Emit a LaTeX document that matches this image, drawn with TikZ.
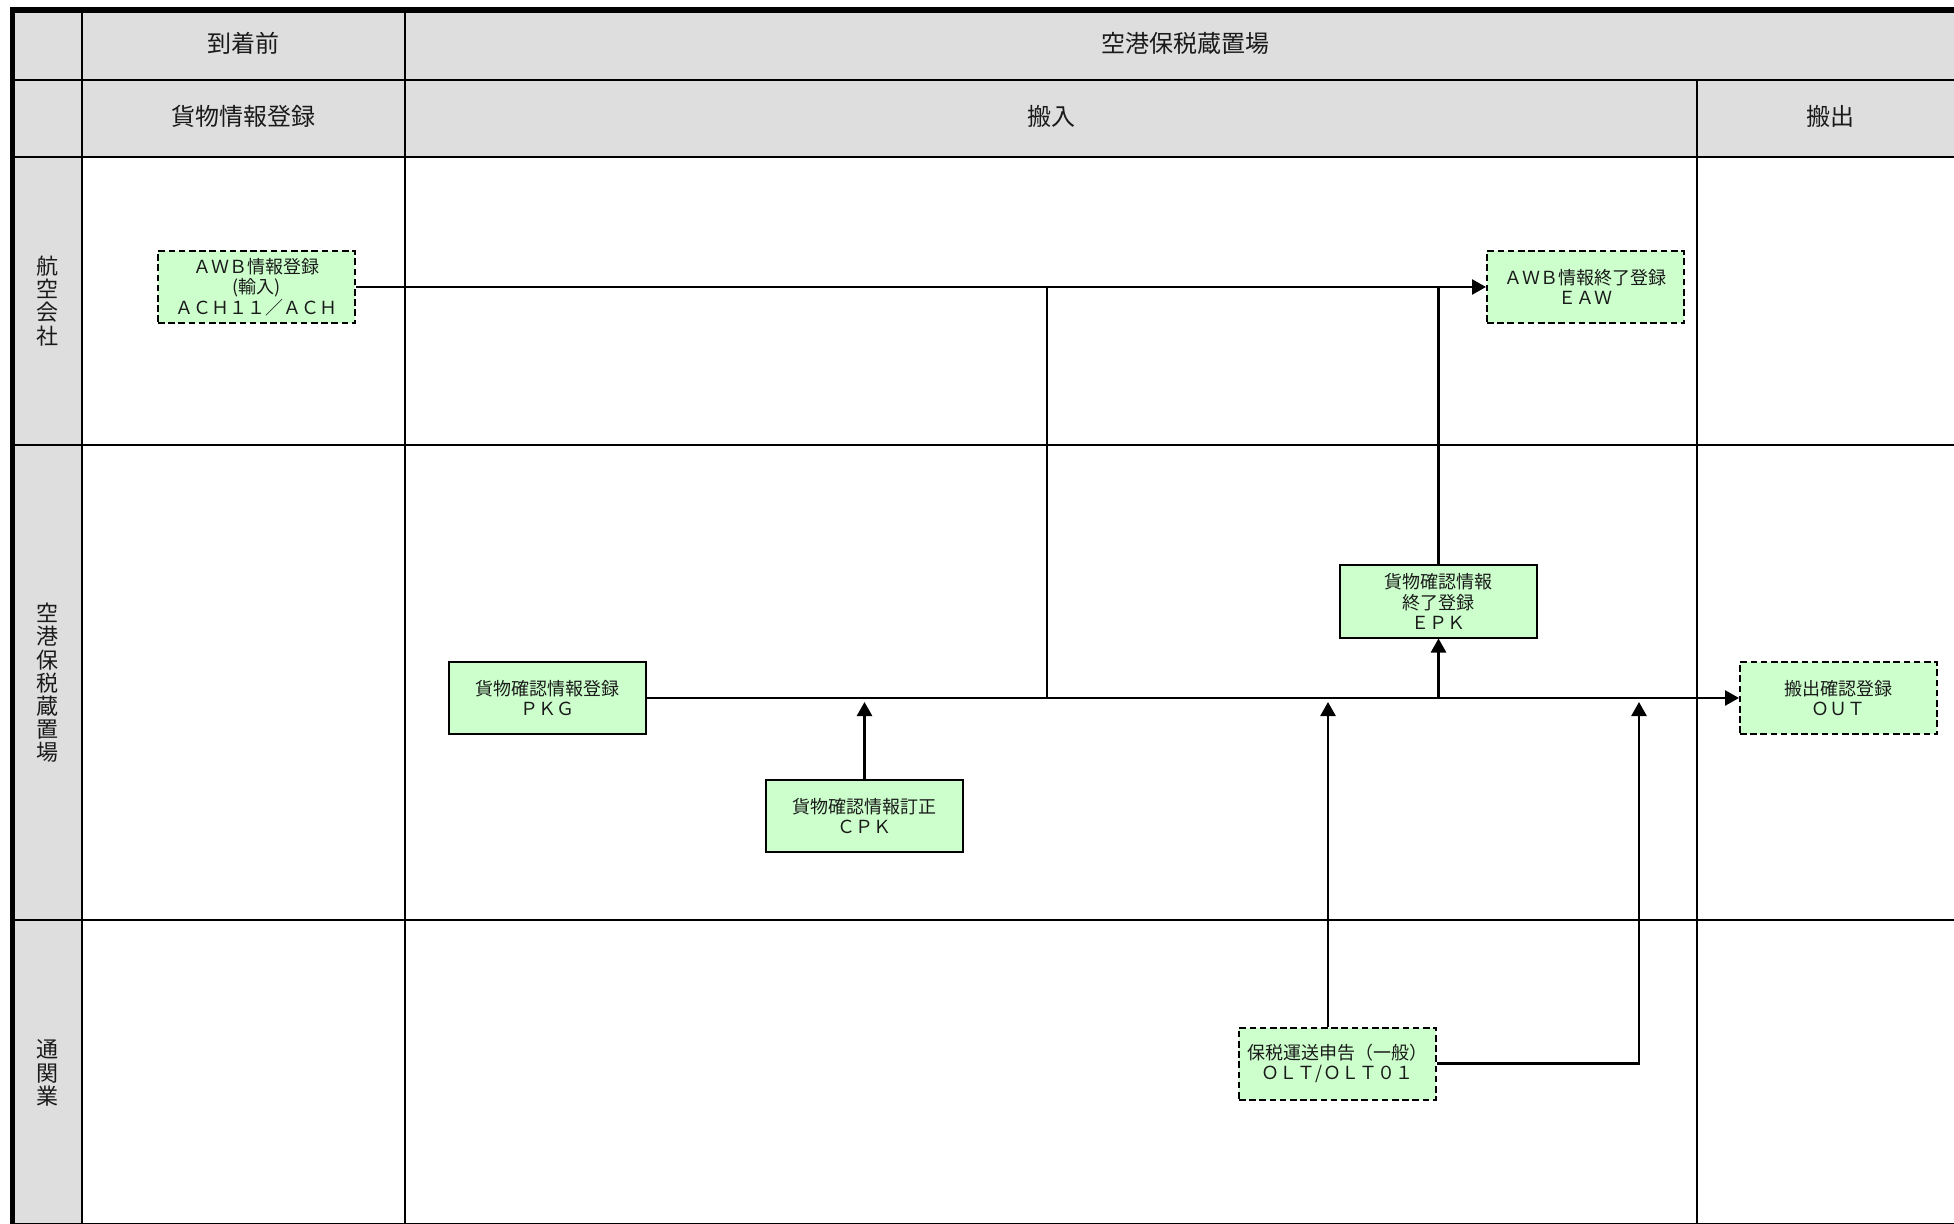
\documentclass[tikz,border=0pt]{standalone}
\usepackage{fontspec}
\setmainfont{Noto Sans CJK JP}
\usetikzlibrary{arrows.meta}
\definecolor{hdr}{HTML}{DEDEDE}
\definecolor{boxg}{HTML}{CCFFCC}
\definecolor{txt}{HTML}{1A1A1A}
\begin{document}
\begin{tikzpicture}[x=0.5pt,y=-0.5pt,
  gridline/.style={line width=1.3pt},
  hdrtext/.style={font=\fontsize{12}{14}\selectfont, text=txt},
  lanetext/.style={font=\fontsize{11}{11.6}\selectfont, align=center, inner sep=0, text=txt},
  procbox/.style={draw, line width=1pt, fill=boxg, minimum width=98.5pt, minimum height=36pt, inner sep=0, align=center, font=\fontsize{9}{10.2}\selectfont, text=txt},
  sysbox/.style={procbox, dash pattern=on 3.3pt off 1.8pt},
  flow/.style={line width=1.3pt, -{Triangle[length=7pt,width=7.5pt]}},
  link/.style={line width=1.3pt}
]
\useasboundingbox (0,0) rectangle (1954,1224);
% backgrounds
\fill[hdr] (12,10) rectangle (1954,157);
\fill[hdr] (12,157) rectangle (82,1224);
% grid
\draw[gridline] (12,80) -- (1954,80);
\draw[gridline] (12,157) -- (1954,157);
\draw[gridline] (12,445) -- (1954,445);
\draw[gridline] (12,920) -- (1954,920);
\draw[line width=0.7pt] (12,1223.3) -- (1954,1223.3);
\draw[gridline] (82,10) -- (82,1224);
\draw[gridline] (405,10) -- (405,1224);
\draw[gridline] (1697,80) -- (1697,1224);
% outer border
\draw[line width=3pt] (10,10) -- (1954,10);
\draw[line width=2.6pt] (12.5,7) -- (12.5,1224);
% header texts
\node[hdrtext] (h1) at (243.5,43) {到着前};
\node[hdrtext] (h2) at (1185,43) {空港保税蔵置場};
\node[hdrtext] (h3) at (243.5,116) {貨物情報登録};
\node[hdrtext] (h4) at (1051,116) {搬入};
\node[hdrtext] (h5) at (1830,116) {搬出};
% lane labels
\node[lanetext] (l1) at (47,301) {航\\空\\会\\社};
\node[lanetext] (l2) at (47,683) {空\\港\\保\\税\\蔵\\置\\場};
\node[lanetext] (l3) at (47,1073) {通\\関\\業};
% process nodes
\node[sysbox] (awb) at (256.5,287) {ＡＷＢ情報登録\\(輸入)\\ＡＣＨ１１／ＡＣＨ};
\node[sysbox] (eaw) at (1585.5,287) {ＡＷＢ情報終了登録\\ＥＡＷ};
\node[procbox] (epk) at (1438.5,601.5) {貨物確認情報\\終了登録\\ＥＰＫ};
\node[procbox] (pkg) at (547.5,698) {貨物確認情報登録\\ＰＫＧ};
\node[procbox] (cpk) at (864.5,816) {貨物確認情報訂正\\ＣＰＫ};
\node[sysbox] (out) at (1838.5,698) {搬出確認登録\\ＯＵＴ};
\node[sysbox] (olt) at (1337.5,1063.5) {保税運送申告（一般）\\ＯＬＴ/ＯＬＴ０１};
% connectors
\draw[flow] (awb.east) -- (eaw.west);
\coordinate (j1) at (1047,287);
\coordinate (j2) at (1047,698);
\draw[link] (j1) -- (j2);
\draw[flow] (pkg.east) -- (out.west);
\coordinate (j3) at (epk.south |- pkg.east);
\draw[flow] (j3) -- (epk.south);
\coordinate (j4) at (epk.north |- awb.east);
\draw[link] (epk.north) -- (j4);
\coordinate (t1) at (864.5,702);
\draw[flow] (cpk.north) -- (t1);
\coordinate (t2) at (1328,702);
\coordinate (s2) at (olt.north -| t2);
\draw[flow] (s2) -- (t2);
\coordinate (k1) at (1639,1063.5);
\coordinate (t3) at (1639,702);
\draw[flow] (olt.east) -- (k1) -- (t3);
\end{tikzpicture}
\end{document}
